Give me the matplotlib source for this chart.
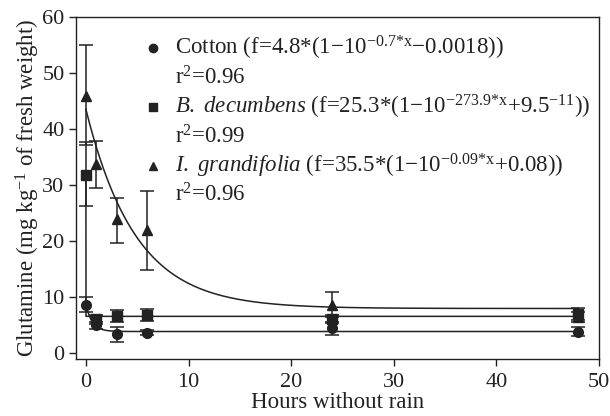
import numpy as np
import matplotlib
matplotlib.use("Agg")
import matplotlib.pyplot as plt

plt.rcParams['font.family'] = ['Liberation Serif', 'DejaVu Serif']
plt.rcParams['mathtext.fontset'] = 'custom'
plt.rcParams['mathtext.rm'] = 'Liberation Serif'
plt.rcParams['mathtext.it'] = 'Liberation Serif:italic'

# Messwerte (Stunden ohne Regen)
hours = [0, 1, 3, 6, 24, 48]

cotton = [8.7, 5.0, 3.4, 3.7, 4.5, 3.9]
cotton_lo = [7.3, 4.4, 2.0, 3.2, 3.3, 3.1]
cotton_hi = [10.0, 5.6, 4.7, 4.2, 5.6, 4.7]

brachiaria = [31.7, 6.1, 6.7, 6.9, 6.1, 7.0]
brachiaria_lo = [26.2, 5.3, 5.6, 5.8, 5.4, 6.0]
brachiaria_hi = [37.6, 6.8, 7.7, 7.9, 6.8, 8.0]

ipomoea = [45.9, 33.7, 23.9, 22.0, 8.6, 6.5]
ipomoea_lo = [37.2, 29.5, 19.7, 14.9, 6.4, 5.6]
ipomoea_hi = [54.9, 37.8, 27.6, 28.9, 10.9, 7.4]

# Anpassungskurven: Plateau + Amplitude * 10^(-k*x)
fit_plateau = [3.9, 6.6, 8.0]
fit_amp = [4.8, 25.3, 35.5]
fit_k = [0.7, 273.9, 0.09]

labels = [
    r"Cotton (f=4.8*(1$-$10$^{-0.7{*}\mathrm{x}}$$-$0.0018))",
    r"$\mathit{B.\ decumbens}$ (f=25.3*(1$-$10$^{-273.9{*}\mathrm{x}}$+9.5$^{-11}$))",
    r"$\mathit{I.\ grandifolia}$ (f=35.5*(1$-$10$^{-0.09{*}\mathrm{x}}$+0.08))",
]
r2 = ["0.96", "0.99", "0.96"]

col = '#222222'
fs = 16.5
fig = plt.figure(figsize=(6.10, 4.16), dpi=100)
ax = fig.add_axes([0.124, 0.137, 0.858, 0.823])

series = [(cotton, cotton_lo, cotton_hi, 'o', 7),
          (brachiaria, brachiaria_lo, brachiaria_hi, 's', 6.5),
          (ipomoea, ipomoea_lo, ipomoea_hi, '^', 7)]

xx = np.concatenate([[0], np.linspace(0.0005, 48, 4000)])
for i, (y, lo, hi, m, ms) in enumerate(series):
    y = np.array(y)
    err = [y - np.array(lo), np.array(hi) - y]
    ax.errorbar(hours, y, yerr=err, fmt=m, color=col, ms=ms,
                ecolor=col, elinewidth=1.1, capsize=5, capthick=1.1, zorder=3)
    ax.plot(xx, fit_plateau[i] + fit_amp[i] * 10 ** (-fit_k[i] * xx),
            color=col, lw=1.1, zorder=2)

ax.set_xlim(-1, 50)
ax.set_ylim(-1, 60)
ax.set_xticks([0, 10, 20, 30, 40, 50])
ax.set_yticks([0, 10, 20, 30, 40, 50, 60])
ax.tick_params(direction='out', length=5, width=1, labelsize=16, colors=col,
               top=False, right=False, pad=3)
ax.tick_params(axis='x', pad=5)
for s in ax.spines.values():
    s.set_color(col)
    s.set_linewidth(1)
ax.set_xlabel('Hours without rain', fontsize=fs, color=col, labelpad=0)
ax.set_ylabel(r'Glutamine (mg kg$^{-1}$ of fresh weight)', fontsize=fs, color=col,
              labelpad=0)

# Legende von Hand
markers = ['o', 's', '^']
y0 = 0.908
dy = 0.086
for i in range(3):
    yl = y0 - 2 * i * dy
    ax.plot([0.148], [yl], marker=markers[i], color=col, ms=6,
            transform=ax.transAxes, clip_on=False)
    ax.text(0.19, yl, labels[i], transform=ax.transAxes, fontsize=16.5,
            color=col, va='center', ha='left')
    ax.text(0.19, yl - dy, r"r$^2$=" + r2[i], transform=ax.transAxes,
            fontsize=16.5, color=col, va='center', ha='left')

fig.savefig('out.png', dpi=100)
